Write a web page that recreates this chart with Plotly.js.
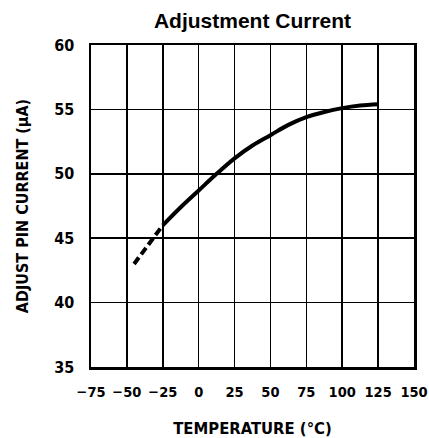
<!DOCTYPE html>
<html>
<head>
<meta charset="utf-8">
<script src="https://cdn.plot.ly/plotly-3.0.1.min.js"></script>
<style>html,body{margin:0;padding:0;background:#fff;}#chart{width:429px;height:438px;}</style>
</head>
<body>
<div id="chart"></div>
<script>
var dashTemp = [-45, -25];
var dashCurrent = [43.0, 46.0];
var solidTemp = [-25, -12.5, 0, 12.5, 25, 37.5, 50, 62.5, 75, 87.5, 100, 112.5, 125];
var solidCurrent = [46.0, 47.4, 48.7, 50.0, 51.2, 52.2, 53.0, 53.8, 54.4, 54.8, 55.1, 55.3, 55.4];
var xTicks = [-75, -50, -25, 0, 25, 50, 75, 100, 125, 150];
var xTickText = ['\u221275', '\u221250', '\u221225', '0', '25', '50', '75', '100', '125', '150'];
var yTicks = [35, 40, 45, 50, 55, 60];

var condFont = '"Liberation Sans Narrow", "DejaVu Sans Condensed", sans-serif';
var tickFont = {family: condFont, size: 14.5, color: '#000', weight: 'bold'};

var traces = [
  {x: dashTemp, y: dashCurrent, mode: 'lines', line: {color: '#000', width: 4, dash: '8px,4px'}, hoverinfo: 'skip'},
  {x: solidTemp, y: solidCurrent, mode: 'lines', line: {color: '#000', width: 4, shape: 'spline'}, hoverinfo: 'skip'}
];

var layout = {
  width: 429, height: 438,
  margin: {l: 91, r: 15, t: 45, b: 71},
  paper_bgcolor: '#fff', plot_bgcolor: '#fff',
  showlegend: false,
  title: {text: '<b>Adjustment Current</b>', x: 0.5, xref: 'paper', y: 0.953, yanchor: 'middle',
          font: {family: '"Liberation Sans", Arial, sans-serif', size: 21, color: '#000'}},
  xaxis: {
    range: [-75, 150], tickvals: xTicks, ticktext: xTickText,
    showgrid: true, gridcolor: '#000', gridwidth: 1.5, zeroline: false,
    showline: true, linecolor: '#000', linewidth: 2.5, mirror: true,
    ticks: '', ticklabelstandoff: 10, ticklabeloverflow: 'allow', tickfont: tickFont,
    title: {text: '<b>TEMPERATURE (°C)</b>', standoff: 24, font: {family: condFont, size: 16.5, color: '#000'}}
  },
  yaxis: {
    range: [35, 60], tickvals: yTicks,
    showgrid: true, gridcolor: '#000', gridwidth: 1.5, zeroline: false,
    showline: true, linecolor: '#000', linewidth: 2.5, mirror: true,
    ticks: '', ticklabelstandoff: 11, tickfont: {family: condFont, size: 16, color: '#000', weight: 'bold'},
    title: {text: '<b>ADJUST PIN CURRENT (μA)</b>', standoff: 22, font: {family: condFont, size: 16, color: '#000'}}
  }
};

Plotly.newPlot('chart', traces, layout, {displayModeBar: false, staticPlot: true});
</script>
</body>
</html>
